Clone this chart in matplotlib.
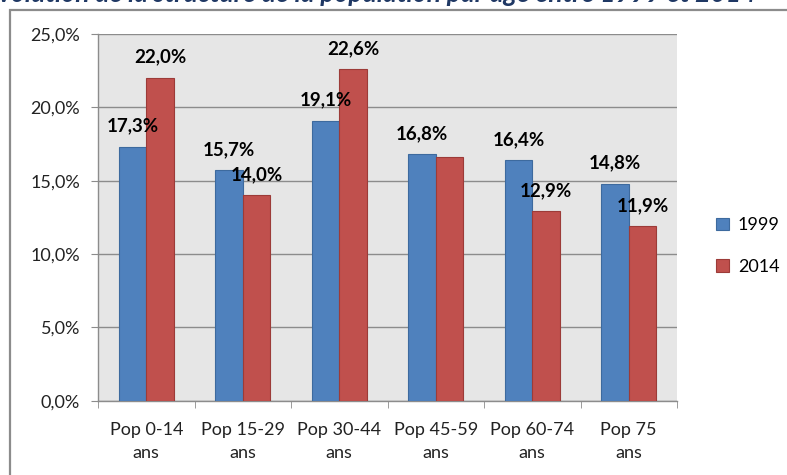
import numpy as np
import matplotlib
matplotlib.use('Agg')
import matplotlib.pyplot as plt
from matplotlib.patches import Rectangle

# population share by age group, in %
categories = ['Pop 0-14\nans', 'Pop 15-29\nans', 'Pop 30-44\nans',
              'Pop 45-59\nans', 'Pop 60-74\nans', 'Pop 75\nans']
pop_1999 = [17.3, 15.7, 19.1, 16.8, 16.4, 14.8]
pop_2014 = [22.0, 14.0, 22.6, 16.6, 12.9, 11.9]
show_2014_label = [True, True, True, False, True, True]
years = ['1999', '2014']

plt.rcParams['font.family'] = ['Lato', 'DejaVu Sans']

fig = plt.figure(figsize=(7.87, 4.75), dpi=100)

# title, mostly cut off by the top edge
fig.text(0.47, 1.0 - 1.5 / 475, 'Evolution de la structure de la population par âge entre 1999 et 2014',
         ha='center', va='baseline', fontsize=19, fontweight='bold', fontstyle='italic',
         color='#1f3864')

# outer frame of the chart object
frame = Rectangle((10 / 787, -0.1), 1.2, 1.1 - 9.5 / 475, transform=fig.transFigure,
                  fill=False, edgecolor='#8c8c8c', linewidth=1.6)
fig.patches.append(frame)

ax = fig.add_axes([98 / 787, (475 - 400.7) / 475, 579 / 787, (400.7 - 34) / 475])
ax.set_facecolor('#e6e6e6')

x = np.arange(len(categories))
w = 0.285
b1 = ax.bar(x - w / 2, pop_1999, w, color='#4f81bd', edgecolor='#3d6a9e', linewidth=0.8,
            label=years[0], zorder=3)
b2 = ax.bar(x + w / 2, pop_2014, w, color='#c0504d', edgecolor='#9c3b38', linewidth=0.8,
            label=years[1], zorder=3)

def fmt(v):
    return f'{v:.1f}%'.replace('.', ',')

for xi, v in zip(x, pop_1999):
    ax.annotate(fmt(v), (xi - w / 2, v), xytext=(0, 15), textcoords='offset points',
                ha='center', va='center', fontsize=13.5, fontweight='bold', zorder=5)
for xi, v, show in zip(x, pop_2014, show_2014_label):
    if show:
        ax.annotate(fmt(v), (xi + w / 2, v), xytext=(0, 15), textcoords='offset points',
                    ha='center', va='center', fontsize=13.5, fontweight='bold', zorder=5)

ax.set_xlim(-0.5, len(categories) - 0.5)
ax.set_ylim(0, 25)
ax.set_yticks(np.arange(0, 26, 5))
ax.set_yticklabels([fmt(t) for t in np.arange(0, 26, 5)], fontsize=13, color='#222222')
ax.set_xticks(x)
ax.set_xticklabels(categories, fontsize=13, color='#222222', linespacing=1.55)
ax.set_xticks(np.arange(-0.5, len(categories), 1), minor=True)
ax.tick_params(axis='x', which='major', length=0, pad=15)
ax.tick_params(axis='x', which='minor', length=5, color='#8c8c8c', direction='out')
ax.tick_params(axis='y', length=5, color='#8c8c8c', pad=8)
ax.grid(axis='y', color='#8c8c8c', linewidth=1.0, zorder=0)
ax.set_axisbelow(True)
for s in ['top', 'right']:
    ax.spines[s].set_visible(False)
for s in ['left', 'bottom']:
    ax.spines[s].set_color('#8c8c8c')
    ax.spines[s].set_linewidth(1.0)

fig.legend(handles=[b1, b2], loc='center left', bbox_to_anchor=(700 / 787, 1 - 246 / 475),
           frameon=False, fontsize=13, handlelength=0.7, handleheight=0.7,
           labelspacing=1.4, handletextpad=0.5)

fig.savefig('out.png', dpi=100)
